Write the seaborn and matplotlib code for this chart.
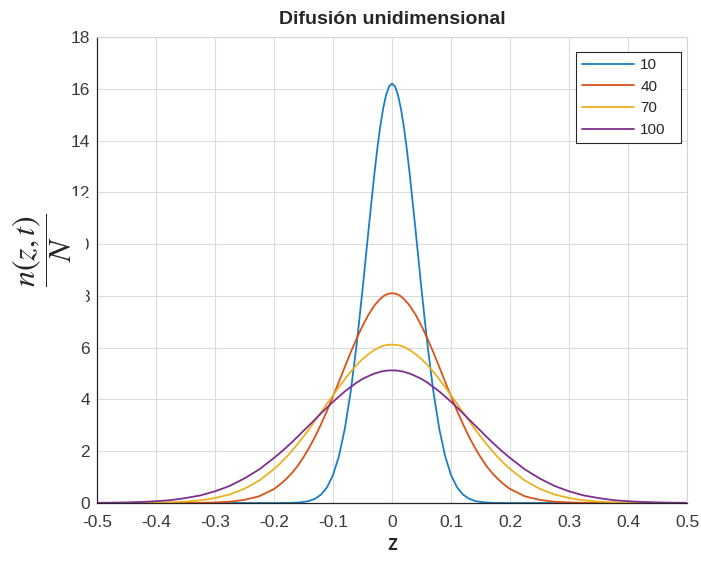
import numpy as np
import pandas as pd
import matplotlib
matplotlib.use("Agg")
import matplotlib.pyplot as plt
import seaborn as sns
from matplotlib.patches import Rectangle

z = [-0.5, -0.475, -0.45, -0.425, -0.4, -0.375, -0.35, -0.325, -0.3, -0.275, -0.25, -0.225, -0.2,
     -0.19, -0.18, -0.17, -0.16, -0.15, -0.14, -0.13, -0.12, -0.11, -0.1, -0.09, -0.08, -0.07,
     -0.06, -0.05, -0.04, -0.03, -0.025, -0.02, -0.015, -0.01, -0.005,
     0.0,
     0.005, 0.01, 0.015, 0.02, 0.025, 0.03, 0.04, 0.05, 0.06, 0.07, 0.08, 0.09, 0.1, 0.11, 0.12,
     0.13, 0.14, 0.15, 0.16, 0.17, 0.18, 0.19,
     0.2, 0.225, 0.25, 0.275, 0.3, 0.325, 0.35, 0.375, 0.4, 0.425, 0.45, 0.475, 0.5]

n_10 = [0, 0, 0, 0, 0, 0, 0, 0, 0, 0, 0, 0, 0,
        0.001, 0.003, 0.007, 0.016, 0.04, 0.08, 0.17, 0.33, 0.61, 1.08, 1.81, 2.87, 4.31,
        6.12, 8.24, 10.51, 12.70, 13.68, 14.54, 15.24, 15.77, 16.09,
        16.2,
        16.09, 15.77, 15.24, 14.54, 13.68, 12.70, 10.51, 8.24, 6.12, 4.31, 2.87, 1.81, 1.08, 0.61, 0.33,
        0.17, 0.08, 0.04, 0.016, 0.007, 0.003, 0.001,
        0, 0, 0, 0, 0, 0, 0, 0, 0, 0, 0, 0, 0]

n_40 = [0, 0, 0, 0, 0, 0, 0.002, 0.006, 0.02, 0.05, 0.12, 0.26, 0.54,
        0.71, 0.91, 1.15, 1.43, 1.77, 2.15, 2.58, 3.06, 3.57, 4.12, 4.68, 5.26, 5.82,
        6.35, 6.84, 7.27, 7.62, 7.76, 7.88, 7.98, 8.05, 8.09,
        8.1,
        8.09, 8.05, 7.98, 7.88, 7.76, 7.62, 7.27, 6.84, 6.35, 5.82, 5.26, 4.68, 4.12, 3.57, 3.06,
        2.58, 2.15, 1.77, 1.43, 1.15, 0.91, 0.71,
        0.54, 0.26, 0.12, 0.05, 0.02, 0.006, 0.002, 0, 0, 0, 0, 0, 0]

n_70 = [0, 0.001, 0.002, 0.006, 0.013, 0.027, 0.054, 0.10, 0.19, 0.33, 0.55, 0.87, 1.31,
        1.52, 1.75, 2.01, 2.28, 2.57, 2.87, 3.19, 3.51, 3.84, 4.16, 4.48, 4.78, 5.07,
        5.33, 5.56, 5.75, 5.91, 5.97, 6.03, 6.07, 6.10, 6.11,
        6.12,
        6.11, 6.10, 6.07, 6.03, 5.97, 5.91, 5.75, 5.56, 5.33, 5.07, 4.78, 4.48, 4.16, 3.84, 3.51,
        3.19, 2.87, 2.57, 2.28, 2.01, 1.75, 1.52,
        1.31, 0.87, 0.55, 0.33, 0.19, 0.10, 0.054, 0.027, 0.013, 0.006, 0.002, 0.001, 0]

n_100 = [0.006, 0.011, 0.021, 0.039, 0.068, 0.11, 0.19, 0.29, 0.45, 0.66, 0.95, 1.30, 1.74,
         1.93, 2.13, 2.34, 2.56, 2.79, 3.01, 3.24, 3.47, 3.69, 3.91, 4.11, 4.31, 4.48,
         4.65, 4.79, 4.90, 5.00, 5.03, 5.07, 5.09, 5.11, 5.12,
         5.12,
         5.12, 5.11, 5.09, 5.07, 5.03, 5.00, 4.90, 4.79, 4.65, 4.48, 4.31, 4.11, 3.91, 3.69, 3.47,
         3.24, 3.01, 2.79, 2.56, 2.34, 2.13, 1.93,
         1.74, 1.30, 0.95, 0.66, 0.45, 0.29, 0.19, 0.11, 0.068, 0.039, 0.021, 0.011, 0.006]

t_labels = ["10", "40", "70", "100"]
x_ticks = [-0.5, -0.4, -0.3, -0.2, -0.1, 0, 0.1, 0.2, 0.3, 0.4, 0.5]
x_ticklabels = ["-0.5", "-0.4", "-0.3", "-0.2", "-0.1", "0", "0.1", "0.2", "0.3", "0.4", "0.5"]
y_ticks = [0, 2, 4, 6, 8, 10, 12, 14, 16, 18]

df = pd.concat([pd.DataFrame({"z": z, "n": vals, "t": lab})
                for vals, lab in zip([n_10, n_40, n_70, n_100], t_labels)])

colors = {"10": "#1a7fc4", "40": "#D95319", "70": "#EDB120", "100": "#7E2F8E"}

sns.set_style("whitegrid")
plt.rcParams["font.family"] = ["Liberation Sans", "DejaVu Sans"]
plt.rcParams["mathtext.fontset"] = "stix"

fig = plt.figure(figsize=(7.01, 5.78), dpi=100)
ax = fig.add_axes([0.1384, 0.1298, 0.8417, 0.8062])

sns.lineplot(data=df, x="z", y="n", hue="t", palette=colors, hue_order=t_labels,
             linewidth=1.3, legend=False, ax=ax)

ax.set_xlim(-0.5, 0.5)
ax.set_ylim(0, 18)
ax.set_xticks(x_ticks)
ax.set_xticklabels(x_ticklabels)
ax.set_yticks(y_ticks)
ax.set_xlabel("")
ax.set_ylabel("")
ax.grid(True, color="#dcdcdc", linewidth=0.8)

for s in ["left", "bottom"]:
    ax.spines[s].set_color("#262626")
    ax.spines[s].set_linewidth(0.9)
for s in ["top", "right"]:
    ax.spines[s].set_color("#d5d5d5")
    ax.spines[s].set_linewidth(0.8)

ax.tick_params(axis="both", direction="in", length=5, width=0.8, color="#262626",
               labelcolor="#3a3a3a", labelsize=12.5)
ax.tick_params(axis="x", pad=9)
ax.tick_params(axis="y", pad=5)

ax.set_title("Difusión unidimensional", fontsize=14, fontweight="bold", pad=9)

leg = ax.legend(handles=ax.lines[:4], labels=t_labels, loc="upper left",
                bbox_to_anchor=(0.812, 0.775, 0.178, 0.193), mode="expand",
                borderaxespad=0, fancybox=False, framealpha=1,
                edgecolor="#262626", fontsize=11, handlelength=3.4,
                labelspacing=0.5, borderpad=0.4, handletextpad=0.4)
leg.get_frame().set_linewidth(0.8)

# white patch pasted over part of the y tick labels, with the fraction label on top
fig.add_artist(Rectangle((0, 0.46), 0.1227, 0.201, transform=fig.transFigure,
                         facecolor="white", edgecolor="none", zorder=5))
fig.text(0.06, 0.566, r"$\dfrac{n(z,t)}{N}$", rotation=90, fontsize=23,
         ha="center", va="center", zorder=6)

fig.text(0.559, 0.058, "z", fontsize=15, family="Open Sans", fontweight="semibold",
         ha="center", va="center")

fig.savefig("out.png", dpi=100)
